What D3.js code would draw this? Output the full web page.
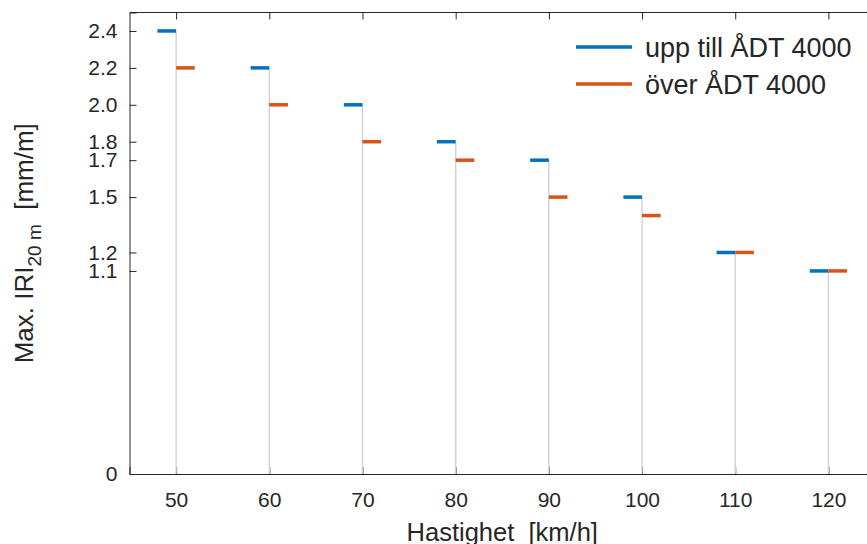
<!DOCTYPE html>
<html lang="sv">
<head>
<meta charset="UTF-8">
<title>Max IRI per hastighet</title>
<script src="https://d3js.org/d3.v7.min.js"></script>
<style>
  body { margin: 0; background: #fff; }
  text { font-family: "Liberation Sans", Arial, sans-serif; fill: #262626; }
  .axis path, .axis line { stroke: #262626; }
  .axis text { font-size: 21px; }
</style>
</head>
<body>
<div id="chart"></div>
<script>
// data
const speeds = [50, 60, 70, 80, 90, 100, 110, 120];
const uppTill4000 = [2.4, 2.2, 2.0, 1.8, 1.7, 1.5, 1.2, 1.1];
const over4000 = [2.2, 2.0, 1.8, 1.7, 1.5, 1.4, 1.2, 1.1];
const yTicks = [0, 1.1, 1.2, 1.5, 1.7, 1.8, 2.0, 2.2, 2.4];
const seriesNames = ["upp till ÅDT 4000", "över ÅDT 4000"];

const W = 867, H = 544;
const mLeft = 129.5, mTop = 12.5, mRight = 875, mBottom = 474;
const blue = "#0072BD", orange = "#D95319";

const svg = d3.select("#chart").append("svg")
  .attr("width", W).attr("height", H);

const x = d3.scaleLinear().domain([45, 125]).range([mLeft, mRight]);
const y = d3.scaleLinear().domain([0, 2.5]).range([mBottom, mTop]);

// frame
svg.append("line")
  .attr("x1", mLeft).attr("x2", mRight).attr("y1", mTop).attr("y2", mTop)
  .attr("stroke", "#262626");

const xAxis = svg.append("g").attr("class", "axis")
  .attr("transform", `translate(0,${mBottom})`)
  .call(d3.axisBottom(x).tickValues(speeds).tickSize(-7).tickPadding(18));
xAxis.selectAll(".tick line").attr("stroke", "#8c8c8c");

svg.append("g").attr("class", "axis")
  .attr("transform", `translate(0,${mTop})`)
  .call(d3.axisTop(x).tickValues(speeds).tickSize(-7).tickFormat(""))
  .select(".domain").remove();

svg.append("g").attr("class", "axis")
  .attr("transform", `translate(${mLeft},0)`)
  .call(d3.axisLeft(y).tickValues(yTicks).tickSize(-7).tickPadding(12)
    .tickFormat(d => d === 0 ? "0" : d3.format(".1f")(d)));

svg.selectAll(".axis .domain").attr("stroke", "#262626");

// stems
svg.selectAll(".stem").data(speeds).enter().append("line")
  .attr("class", "stem")
  .attr("x1", d => x(d)).attr("x2", d => x(d))
  .attr("y1", (d, i) => y(Math.max(uppTill4000[i], over4000[i])))
  .attr("y2", mBottom - 0.5)
  .attr("stroke", "#d4d4d4").attr("stroke-width", 1.5);

// level segments
svg.selectAll(".seg-upp").data(speeds).enter().append("line")
  .attr("x1", d => x(d - 2)).attr("x2", d => x(d))
  .attr("y1", (d, i) => y(uppTill4000[i])).attr("y2", (d, i) => y(uppTill4000[i]))
  .attr("stroke", blue).attr("stroke-width", 3.5);

svg.selectAll(".seg-over").data(speeds).enter().append("line")
  .attr("x1", d => x(d)).attr("x2", d => x(d + 2))
  .attr("y1", (d, i) => y(over4000[i])).attr("y2", (d, i) => y(over4000[i]))
  .attr("stroke", orange).attr("stroke-width", 3.5);

// legend
const legend = svg.append("g");
[blue, orange].forEach((c, i) => {
  const ly = 47 + i * 37;
  legend.append("line").attr("x1", 576).attr("x2", 632)
    .attr("y1", ly).attr("y2", ly).attr("stroke", c).attr("stroke-width", 3.5);
  legend.append("text").attr("x", 645).attr("y", ly + 9.5)
    .style("font-size", "27px").text(seriesNames[i]);
});

// axis labels
svg.append("text")
  .attr("x", (mLeft + mRight) / 2).attr("y", 541)
  .attr("text-anchor", "middle").style("font-size", "25.5px")
  .style("white-space", "pre")
  .text("Hastighet  [km/h]");

const yl = svg.append("text")
  .attr("transform", `translate(33,${(mTop + mBottom) / 2}) rotate(-90)`)
  .attr("text-anchor", "middle").style("font-size", "26px")
  .style("white-space", "pre");
yl.append("tspan").text("Max. IRI");
yl.append("tspan").attr("dy", 8).style("font-size", "19px").text("20 m");
yl.append("tspan").attr("dy", -8).text("  [mm/m]");
</script>
</body>
</html>
